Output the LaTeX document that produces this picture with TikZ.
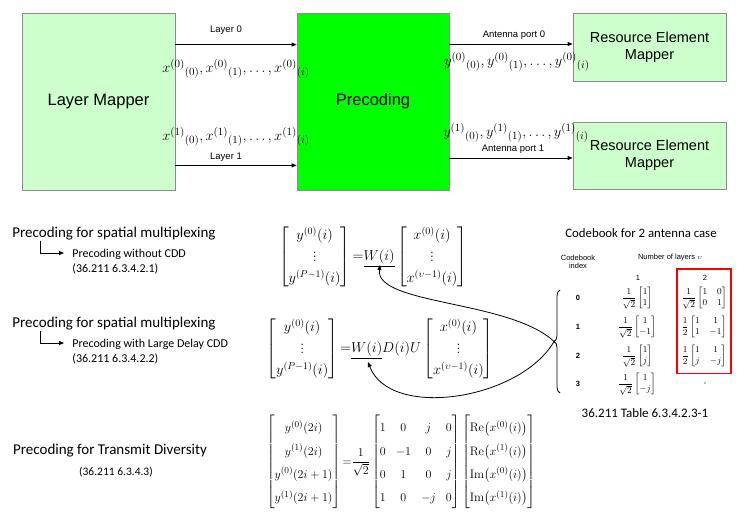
\documentclass[tikz,border=0pt]{standalone}
\usepackage{fontspec}
\usepackage{amsmath}
\newfontfamily\arialf{Liberation Sans}
\newfontfamily\calf{Carlito}
\usetikzlibrary{arrows.meta, positioning, calc, fit, decorations.pathreplacing}
\definecolor{lgreen}{HTML}{CCFFCC}
\definecolor{bgreen}{HTML}{00FF00}
\definecolor{cred}{HTML}{FF0000}
\definecolor{cborder}{HTML}{8C8C8C}
\tikzset{
  every picture/.style={line width=0.8pt},
  blk/.style={draw=cborder, fill=#1, minimum width=153pt, align=center, inner sep=0pt, font=\arialf\fontsize{16.5}{19}\selectfont},
  blk/.default=lgreen,
  arrow/.style={-{Triangle[length=5pt,width=4pt]}, draw=black, line width=0.8pt},
  lbl/.style={font=\arialf\fontsize{9.5}{11}\selectfont, inner sep=1pt},
  sig/.style={font=\fontsize{15}{18}\selectfont, inner sep=0pt},
  head/.style={font=\calf\fontsize{15}{18}\selectfont, anchor=west, inner sep=0pt},
  sub/.style={font=\calf\fontsize{12}{15}\selectfont, anchor=north west, align=left, inner sep=0pt},
  eqn/.style={font={\fontsize{14}{17}\selectfont\def\arraystretch{1.25}}, inner sep=0pt},
  cb/.style={font=\arialf\fontsize{7.5}{8.5}\selectfont, align=center, inner sep=0pt},
  cbm/.style={font=\fontsize{9.5}{11}\selectfont, inner sep=0pt},
}

\begin{document}
\begin{tikzpicture}[x=1pt, y=-1pt]
  \useasboundingbox (0,0) rectangle (752,517);
  % block chain
  \node[blk, minimum height=177pt] (lm) at (98.5,101.5) {Layer Mapper};
  \node[blk=bgreen, minimum height=177pt, minimum width=152pt] (prec) at (373,101.5) {Precoding};
  \node[blk, minimum height=68pt, font=\arialf\fontsize{14.5}{17}\selectfont] (rem0) at (649.5,47) {Resource Element\\Mapper};
  \node[blk, minimum height=67pt, font=\arialf\fontsize{14.5}{17}\selectfont] (rem1) at (649.5,155.5) {Resource Element\\Mapper};

  \draw[arrow] ([yshift=-32pt]lm.north east) -- ([yshift=-32pt]prec.north west) node[lbl, midway, above=9pt, xshift=-10pt] {Layer 0};
  \draw[arrow] ([yshift=25pt]lm.south east) -- ([yshift=25pt]prec.south west) node[lbl, midway, above=3pt, xshift=-10pt] {Layer 1};
  \node[sig] (xs0) at (236,69) {$x^{(0)}{}_{(0)}, x^{(0)}{}_{(1)},\ldots, x^{(0)}{}_{(i)}$};
  \node[sig] (xs1) at (236,137) {$x^{(1)}{}_{(0)}, x^{(1)}{}_{(1)},\ldots, x^{(1)}{}_{(i)}$};

  \draw[arrow] ([yshift=3pt]prec.east |- rem0.west) -- ([yshift=3pt]rem0.west) node[lbl, midway, above=3pt, xshift=3pt] {Antenna port 0};
  \draw[arrow] ([yshift=-2.5pt]prec.east |- rem1.west) -- ([yshift=-2.5pt]rem1.west) node[lbl, midway, above=3pt, xshift=2pt] {Antenna port 1};
  \node[sig] (ys0) at (517,62) {$y^{(0)}{}_{(0)}, y^{(0)}{}_{(1)},\ldots, y^{(0)}{}_{(i)}$};
  \node[sig] (ys1) at (516,133) {$y^{(1)}{}_{(0)}, y^{(1)}{}_{(1)},\ldots, y^{(1)}{}_{(i)}$};

  % spatial multiplexing
  \node[head] (sm1) at (12,234) {Precoding for spatial multiplexing};
  \node[sub] (nocdd) at (72,249) {Precoding without CDD\\(36.211 6.3.4.2.1)};
  \draw[arrow] ([xshift=28pt]sm1.south west) |- ([xshift=-8pt, yshift=-4pt]nocdd.north west);
  \node[head] (sm2) at (12,324) {Precoding for spatial multiplexing};
  \node[sub] (lcdd) at (72,339) {Precoding with Large Delay CDD\\(36.211 6.3.4.2.2)};
  \draw[arrow] ([xshift=28pt]sm2.south west) |- ([xshift=-8pt, yshift=-4pt]lcdd.north west);

  \node[eqn] (eqa) at (373,257) {$\begin{bmatrix} y^{(0)}(i)\\ \vdots\\ y^{(P-1)}(i)\end{bmatrix}{=}\underline{W(i)}\begin{bmatrix} x^{(0)}(i)\\ \vdots\\ x^{(\upsilon-1)}(i)\end{bmatrix}$};
  \node[eqn] (eqb) at (380,349) {$\begin{bmatrix} y^{(0)}(i)\\ \vdots\\ y^{(P-1)}(i)\end{bmatrix}{=}\underline{W(i)}D(i)U\begin{bmatrix} x^{(0)}(i)\\ \vdots\\ x^{(\upsilon-1)}(i)\end{bmatrix}$};
  \coordinate (w1) at (380,265);
  \coordinate (w2) at (368,362);

  % codebook table
  \node[font=\calf\fontsize{12.8}{15}\selectfont, inner sep=0pt] (cbtitle) at (641,233) {Codebook for 2 antenna case};
  \node[cb] (cbidx) at (578,262) {Codebook\\index};
  \node[cb] (nlay) at (670,258) {Number of layers $\upsilon$};
  \node[cb] (col1) at (638,278) {1};
  \node[cb] (col2) at (705,278) {2};
  \node[cb, font=\arialf\bfseries\fontsize{7.5}{8.5}\selectfont] (idx0) at (578,298) {0};
  \node[cb, font=\arialf\bfseries\fontsize{7.5}{8.5}\selectfont] (idx1) at (578,327) {1};
  \node[cb, font=\arialf\bfseries\fontsize{7.5}{8.5}\selectfont] (idx2) at (578,356) {2};
  \node[cb, font=\arialf\bfseries\fontsize{7.5}{8.5}\selectfont] (idx3) at (578,384) {3};
  \node[cbm] (m10) at (637,298) {$\dfrac{1}{\sqrt{2}}\begin{bmatrix}1\\1\end{bmatrix}$};
  \node[cbm] (m11) at (637,327) {$\dfrac{1}{\sqrt{2}}\begin{bmatrix}1\\-1\end{bmatrix}$};
  \node[cbm] (m12) at (637,356) {$\dfrac{1}{\sqrt{2}}\begin{bmatrix}1\\j\end{bmatrix}$};
  \node[cbm] (m13) at (637,384) {$\dfrac{1}{\sqrt{2}}\begin{bmatrix}1\\-j\end{bmatrix}$};
  \node[cbm] (m20) at (704,298) {$\dfrac{1}{\sqrt{2}}\begin{bmatrix}1&0\\0&1\end{bmatrix}$};
  \node[cbm] (m21) at (704,327) {$\dfrac{1}{2}\begin{bmatrix}1&1\\1&-1\end{bmatrix}$};
  \node[cbm] (m22) at (704,356) {$\dfrac{1}{2}\begin{bmatrix}1&1\\j&-j\end{bmatrix}$};
  \node[cb] (m23) at (705,384) {-};
  \node[draw=cred, line width=1.6pt, inner xsep=4pt, inner ysep=6pt, fit=(col2) (m20) (m22)] (sel) {};
  \node[font=\calf\fontsize{13}{15}\selectfont, inner sep=0pt] (cbcap) at (645,413) {36.211 Table 6.3.4.2.3-1};

  % codebook brace and links
  \draw[decorate, decoration={brace, amplitude=6pt}] (560,393) -- (560,290);
  \coordinate (bt) at (554,341.5);
  \draw[arrow] (bt) .. controls (510,300) and (375,305) .. (w1);
  \draw[arrow] (bt) .. controls (520,400) and (390,420) .. (w2);

  % transmit diversity
  \node[font=\calf\fontsize{15}{18}\selectfont, inner sep=0pt] (td) at (110,451) {Precoding for Transmit Diversity};
  \node[font=\calf\fontsize{11.5}{14}\selectfont, inner sep=0pt] (tdref) at (116,472) {(36.211 6.3.4.3)};
  \node[eqn, font={\fontsize{12.3}{15}\selectfont\def\arraystretch{1.55}}] (eqc) at (401,462) {$\begin{bmatrix} y^{(0)}(2i)\\ y^{(1)}(2i)\\ y^{(0)}(2i+1)\\ y^{(1)}(2i+1)\end{bmatrix}{=}\dfrac{1}{\sqrt{2}}\begin{bmatrix} 1&0&j&0\\ 0&-1&0&j\\ 0&1&0&j\\ 1&0&-j&0\end{bmatrix}\begin{bmatrix}\mathrm{Re}\bigl(x^{(0)}(i)\bigr)\\ \mathrm{Re}\bigl(x^{(1)}(i)\bigr)\\ \mathrm{Im}\bigl(x^{(0)}(i)\bigr)\\ \mathrm{Im}\bigl(x^{(1)}(i)\bigr)\end{bmatrix}$};
\end{tikzpicture}
\end{document}
